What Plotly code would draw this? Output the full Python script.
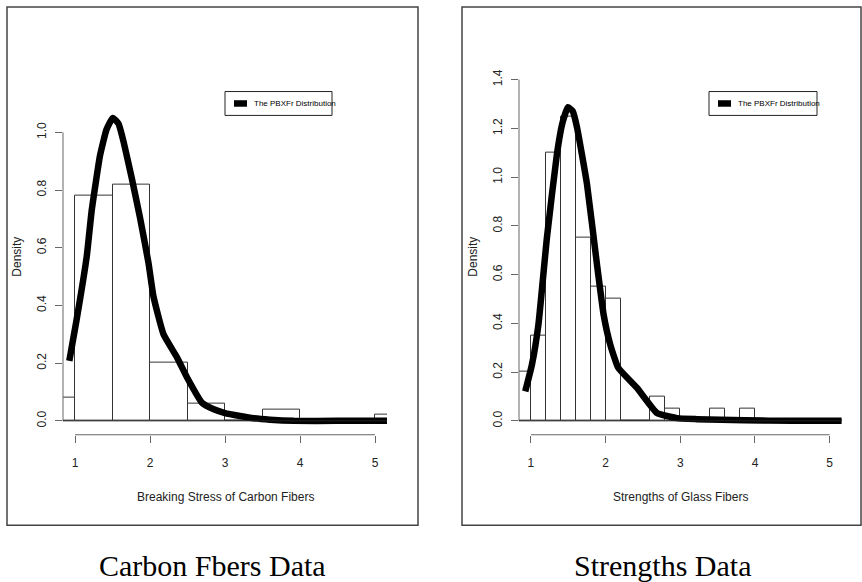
import plotly.graph_objects as go

W, H = 862, 582

# ---------------- data ----------------
carbon_bin_start = 0.5
carbon_bin_width = 0.5
carbon_density = [0.08, 0.78, 0.82, 0.20, 0.06, 0.00, 0.04, 0.00, 0.00, 0.02]

glass_bin_start = 0.8
glass_bin_width = 0.2
glass_density = [0.20, 0.35, 1.10, 1.25, 0.75, 0.55, 0.50, 0.00, 0.00, 0.10,
                 0.05, 0.00, 0.00, 0.05, 0.00, 0.05, 0.00, 0.00, 0.00, 0.00,
                 0.00, 0.00]

carbon_curve_x = [0.924, 1.02, 1.157, 1.223, 1.334, 1.42, 1.504, 1.58, 1.647, 1.758,
                  1.87, 1.98, 2.047, 2.18, 2.36, 2.494, 2.695, 2.85, 3.0, 3.2,
                  3.385, 3.6, 3.92, 4.5, 5.2]
carbon_curve_y = [0.208, 0.348, 0.571, 0.73, 0.92, 1.01, 1.05, 1.03, 0.968, 0.84,
                  0.70, 0.547, 0.43, 0.30, 0.22, 0.15, 0.062, 0.04, 0.027, 0.017,
                  0.009, 0.004, 0.0, 0.0, 0.0]

glass_curve_x = [0.924, 1.013, 1.10, 1.214, 1.348, 1.42, 1.495, 1.56, 1.616, 1.75,
                 1.884, 1.973, 2.062, 2.17, 2.42, 2.688, 2.956, 3.22, 3.86, 4.5, 5.2]
glass_curve_y = [0.121, 0.23, 0.395, 0.752, 1.095, 1.22, 1.287, 1.27, 1.205, 0.972,
                 0.642, 0.436, 0.313, 0.217, 0.135, 0.032, 0.011, 0.007, 0.002, 0.0, 0.0]

x_ticks = [1, 2, 3, 4, 5]
carbon_y_ticks = [0.0, 0.2, 0.4, 0.6, 0.8, 1.0]
glass_y_ticks = [0.0, 0.2, 0.4, 0.6, 0.8, 1.0, 1.2, 1.4]

legend_label = "The PBXFr Distribution"
x_titles = ["Breaking Stress of Carbon Fibers", "Strengths of Glass Fibers"]
y_title = "Density"
captions = ["Carbon Fbers Data", "Strengths Data"]

# ---------------- helpers ----------------
def px(x):
    return x / W

def py(y):
    return 1 - y / H

def centers(start, width, n):
    return [start + width * (i + 0.5) for i in range(n)]

fig = go.Figure()

# histograms
fig.add_trace(go.Bar(
    x=centers(carbon_bin_start, carbon_bin_width, len(carbon_density)),
    y=carbon_density, width=carbon_bin_width,
    marker=dict(color="white", line=dict(color="#333333", width=1)),
    xaxis="x", yaxis="y", showlegend=False, hoverinfo="skip"))
fig.add_trace(go.Bar(
    x=centers(glass_bin_start, glass_bin_width, len(glass_density)),
    y=glass_density, width=glass_bin_width,
    marker=dict(color="white", line=dict(color="#333333", width=1)),
    xaxis="x2", yaxis="y2", showlegend=False, hoverinfo="skip"))

# density curves
fig.add_trace(go.Scatter(x=carbon_curve_x, y=carbon_curve_y, mode="lines",
                         line=dict(color="black", width=6.5, shape="spline", smoothing=0.4),
                         xaxis="x", yaxis="y", showlegend=False, name=legend_label))
fig.add_trace(go.Scatter(x=glass_curve_x, y=glass_curve_y, mode="lines",
                         line=dict(color="black", width=6.5, shape="spline", smoothing=0.4),
                         xaxis="x2", yaxis="y2", showlegend=False, name=legend_label))

tickfont = dict(family="Liberation Sans, Arial, sans-serif", size=12, color="#222222")

common_x = dict(range=[0.84, 5.16], tickvals=x_ticks, ticks="outside", ticklen=7,
                tickcolor="#666666", tickwidth=1, showline=False, showgrid=False,
                zeroline=False, tickfont=tickfont, ticklabelstandoff=10)

plot_bottom = 434
plot_top = 70
y_dom = [py(plot_bottom), py(plot_top)]

carbon_scale = 290.0
glass_scale = 245.0
zero_px = 420

fig.update_layout(
    width=W, height=H,
    margin=dict(l=0, r=0, t=0, b=0),
    paper_bgcolor="white", plot_bgcolor="white",
    bargap=0, barmode="overlay",
    xaxis=dict(domain=[px(63), px(387)], anchor="y", **common_x),
    xaxis2=dict(domain=[px(519), px(841.6)], anchor="y2", **common_x),
    yaxis=dict(domain=y_dom, anchor="x",
               range=[-(plot_bottom - zero_px) / carbon_scale, (zero_px - plot_top) / carbon_scale],
               tickvals=carbon_y_ticks, ticktext=[f"{v:.1f}" for v in carbon_y_ticks],
               ticks="outside", ticklen=7, tickcolor="#666666", tickangle=-90,
               showline=False, showgrid=False, zeroline=False, tickfont=tickfont,
               ticklabelstandoff=4),
    yaxis2=dict(domain=y_dom, anchor="x2",
                range=[-(plot_bottom - zero_px) / glass_scale, (zero_px - plot_top) / glass_scale],
                tickvals=glass_y_ticks, ticktext=[f"{v:.1f}" for v in glass_y_ticks],
                ticks="outside", ticklen=7, tickcolor="#666666", tickangle=-90,
                showline=False, showgrid=False, zeroline=False, tickfont=tickfont,
                ticklabelstandoff=4),
)

shapes = []
# axis lines (R-style: span first to last tick)
for xr, yr, yt in (("x", "y", carbon_y_ticks), ("x2", "y2", glass_y_ticks)):
    shapes.append(dict(type="line", xref=xr, yref=f"{yr} domain",
                       x0=x_ticks[0], x1=x_ticks[-1], y0=0, y1=0,
                       line=dict(color="#666666", width=1)))
    shapes.append(dict(type="line", xref=f"{xr} domain", yref=yr,
                       x0=0, x1=0, y0=yt[0], y1=yt[-1],
                       line=dict(color="#666666", width=1)))
    # histogram baseline
    shapes.append(dict(type="line", xref=f"{xr} domain", yref=yr,
                       x0=0, x1=1, y0=0, y1=0,
                       line=dict(color="#222222", width=1)))

# panel frames
for x0, x1 in ((7, 418), (462, 861)):
    shapes.append(dict(type="rect", xref="paper", yref="paper",
                       x0=px(x0), x1=px(x1), y0=py(525), y1=py(4),
                       line=dict(color="#444444", width=1.5)))

# legend boxes
annotations = []
for bx0, bx1 in ((225, 332), (709, 817)):
    shapes.append(dict(type="rect", xref="paper", yref="paper",
                       x0=px(bx0), x1=px(bx1), y0=py(113), y1=py(89),
                       line=dict(color="#222222", width=1), fillcolor="white"))
    shapes.append(dict(type="line", xref="paper", yref="paper",
                       x0=px(bx0 + 9), x1=px(bx0 + 22), y0=py(101), y1=py(101),
                       line=dict(color="black", width=6.5)))
    annotations.append(dict(text=legend_label, xref="paper", yref="paper",
                            x=px(bx0 + 27), y=py(101), xanchor="left", yanchor="middle",
                            showarrow=False,
                            font=dict(family="Liberation Sans, Arial", size=8, color="black")))

# axis titles
for cx, title in ((225, x_titles[0]), (680, x_titles[1])):
    annotations.append(dict(text=title, xref="paper", yref="paper",
                            x=px(cx), y=py(497), xanchor="center", yanchor="middle",
                            showarrow=False,
                            font=dict(family="Liberation Sans, Arial", size=12, color="#222222")))
for cx in (17, 473):
    annotations.append(dict(text=y_title, xref="paper", yref="paper", textangle=-90,
                            x=px(cx), y=py(255), xanchor="center", yanchor="middle",
                            showarrow=False,
                            font=dict(family="Liberation Sans, Arial", size=12, color="#222222")))

# captions
for cx, cap in ((212, captions[0]), (662, captions[1])):
    annotations.append(dict(text=cap, xref="paper", yref="paper",
                            x=px(cx), y=py(565), xanchor="center", yanchor="middle",
                            showarrow=False,
                            font=dict(family="Liberation Serif, Times New Roman, serif",
                                      size=30, color="black")))

fig.update_layout(shapes=shapes, annotations=annotations)

fig.write_html("out.html",
               config={"displayModeBar": False},
               post_script="document.body.style.margin='0';document.body.style.overflow='hidden';")
